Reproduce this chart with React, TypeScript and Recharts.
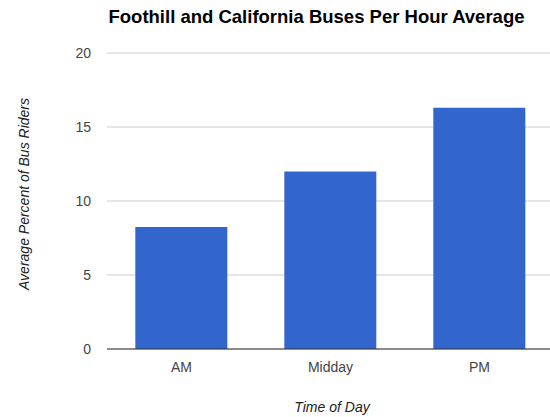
import React from 'react';
import { BarChart, Bar, XAxis, YAxis, CartesianGrid } from 'recharts';

const categories = ['AM', 'Midday', 'PM'];
const busRiders = [8.25, 12.0, 16.3];
const yTicks = [0, 5, 10, 15, 20];

const data = categories.map((time, i) => ({ time, riders: busRiders[i] }));

const FONT = 'Arial, "Liberation Sans", sans-serif';

const App: React.FC = () => {
  return (
    <div style={{ position: 'absolute', left: 0, top: 0, width: 550, height: 417, overflow: 'hidden', background: '#fff', fontFamily: FONT }}>
      <BarChart
        width={555}
        height={417}
        data={data}
        margin={{ top: 53, right: 1, bottom: 38, left: 0 }}
        barCategoryGap="19%"
        style={{ position: 'absolute', left: 0, top: 0 }}
      >
        <CartesianGrid vertical={false} stroke="#cccccc" />
        <XAxis
          dataKey="time"
          axisLine={{ stroke: '#333333' }}
          tickLine={false}
          tickSize={0}
          tickMargin={13}
          tick={{ fill: '#444444', fontSize: 14, fontFamily: FONT }}
        />
        <YAxis
          width={107}
          domain={[0, 20]}
          ticks={yTicks}
          axisLine={false}
          tickLine={false}
          tickSize={0}
          tickMargin={16}
          tick={{ fill: '#444444', fontSize: 14, fontFamily: FONT }}
        />
        <Bar dataKey="riders" fill="#3366cc" isAnimationActive={false} />
      </BarChart>
      <div style={{ position: 'absolute', left: 0, width: 633, top: 6, textAlign: 'center', fontSize: 18.5, fontWeight: 'bold', color: '#000' }}>
        Foothill and California Buses Per Hour Average
      </div>
      <div style={{ position: 'absolute', left: 24, top: 194, width: 0, height: 0 }}>
        <div style={{ position: 'absolute', transform: 'translate(-50%, -50%) rotate(-90deg)', whiteSpace: 'nowrap', fontSize: 14, fontStyle: 'italic', color: '#222' }}>
          Average Percent of Bus Riders
        </div>
      </div>
      <div style={{ position: 'absolute', left: 0, width: 664, top: 399, textAlign: 'center', fontSize: 14, fontStyle: 'italic', color: '#222' }}>
        Time of Day
      </div>
    </div>
  );
};

export default App;
